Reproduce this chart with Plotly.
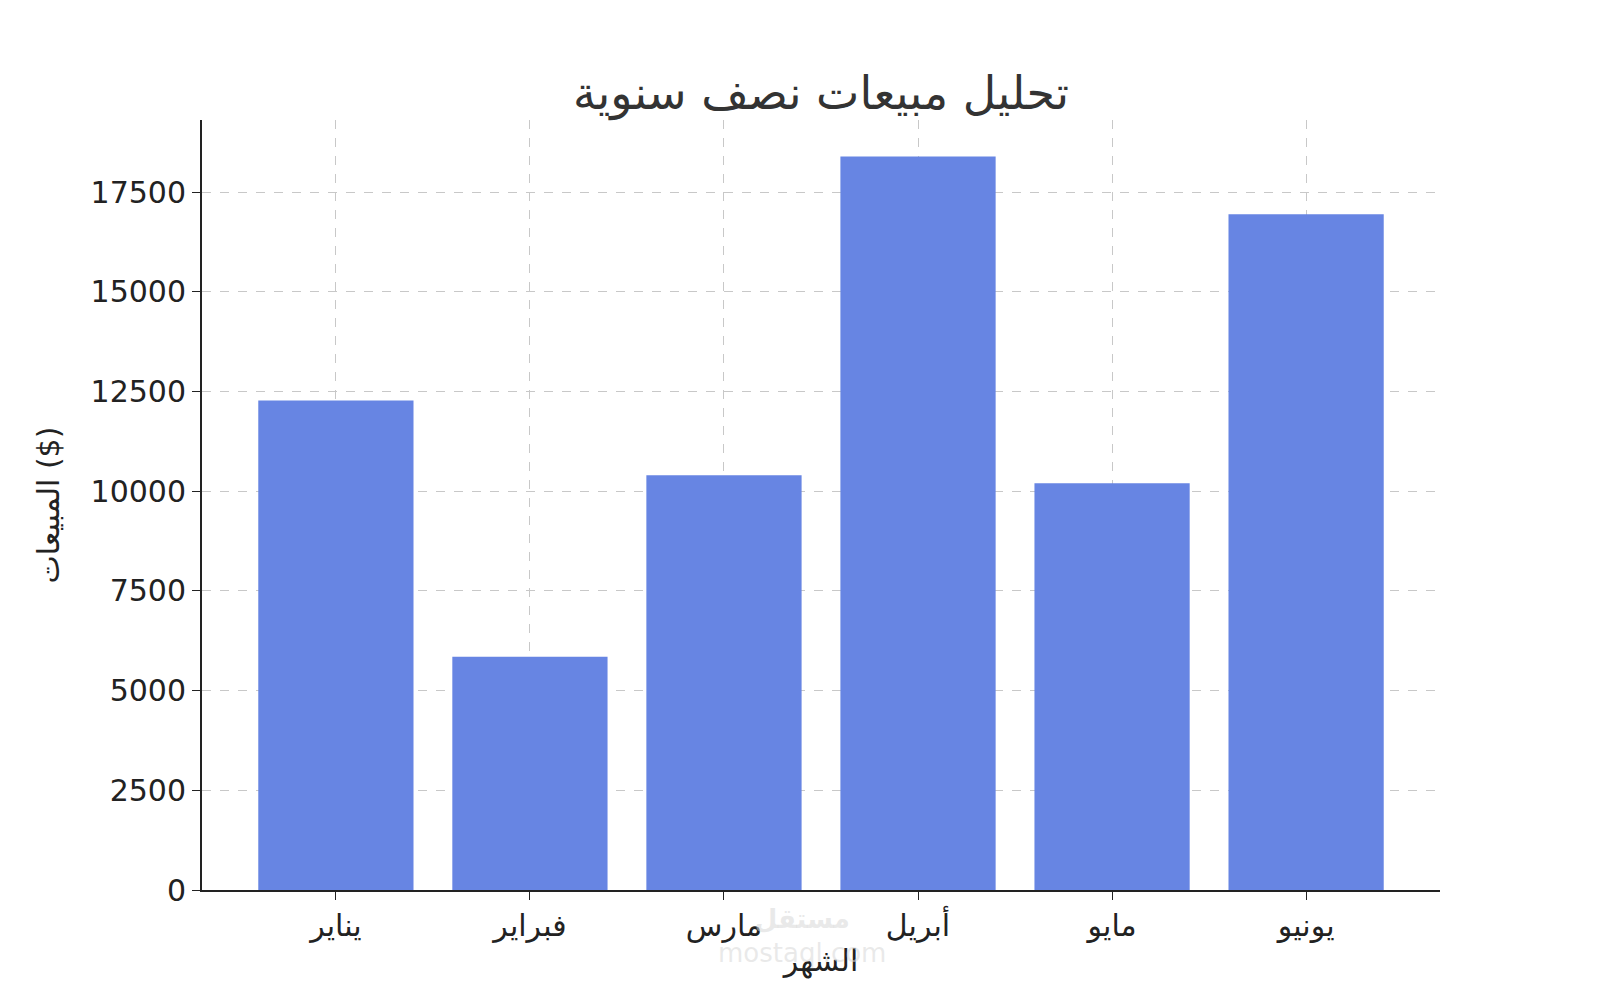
import plotly.graph_objects as go

months = ["يناير", "فبراير", "مارس", "أبريل", "مايو", "يونيو"]
sales = [12280, 5850, 10400, 18400, 10200, 16950]
y_ticks = [0, 2500, 5000, 7500, 10000, 12500, 15000, 17500]

fig = go.Figure(go.Bar(x=list(range(len(months))), y=sales, width=0.8,
                       marker=dict(color="#6785E3", line=dict(width=0))))
font = "DejaVu Sans"
fig.update_layout(
    width=1600, height=1000, plot_bgcolor="white", paper_bgcolor="white",
    margin=dict(l=194, r=168, t=112, b=118),
    font=dict(family=font, size=30, color="#222"),
    title=dict(text="تحليل مبيعات نصف سنوية", x=0.5, xref="paper", y=0.915, yanchor="middle",
               font=dict(size=46, color="#333")),
    showlegend=False,
)
fig.update_xaxes(range=[-0.69, 5.69], tickvals=list(range(len(months))), ticktext=months,
                 showline=True, linecolor="#222", linewidth=2, ticks="outside", ticklen=8,
                 tickcolor="#222", showgrid=True, gridcolor="#c8c8c8", griddash="dash",
                 gridwidth=1, zeroline=False, automargin=False,
                 title=dict(text="الشهر", font=dict(size=30), standoff=8))
fig.update_yaxes(range=[0, 19313], tickvals=y_ticks, tickformat="d", showline=True,
                 linecolor="#222", linewidth=2, ticks="outside", ticklen=8, tickcolor="#222",
                 showgrid=True, gridcolor="#c8c8c8", griddash="dash", gridwidth=1,
                 zeroline=False, automargin=False,
                 title=dict(text="المبيعات ($)", font=dict(size=30), standoff=22))
fig.add_annotation(text="<b>مستقل</b><br>mostaql.com", xref="paper", yref="paper",
                   x=0.485, y=-0.015, yanchor="top", showarrow=False,
                   font=dict(size=26, color="rgba(215,215,215,0.55)"))
fig.write_html("out.html")
